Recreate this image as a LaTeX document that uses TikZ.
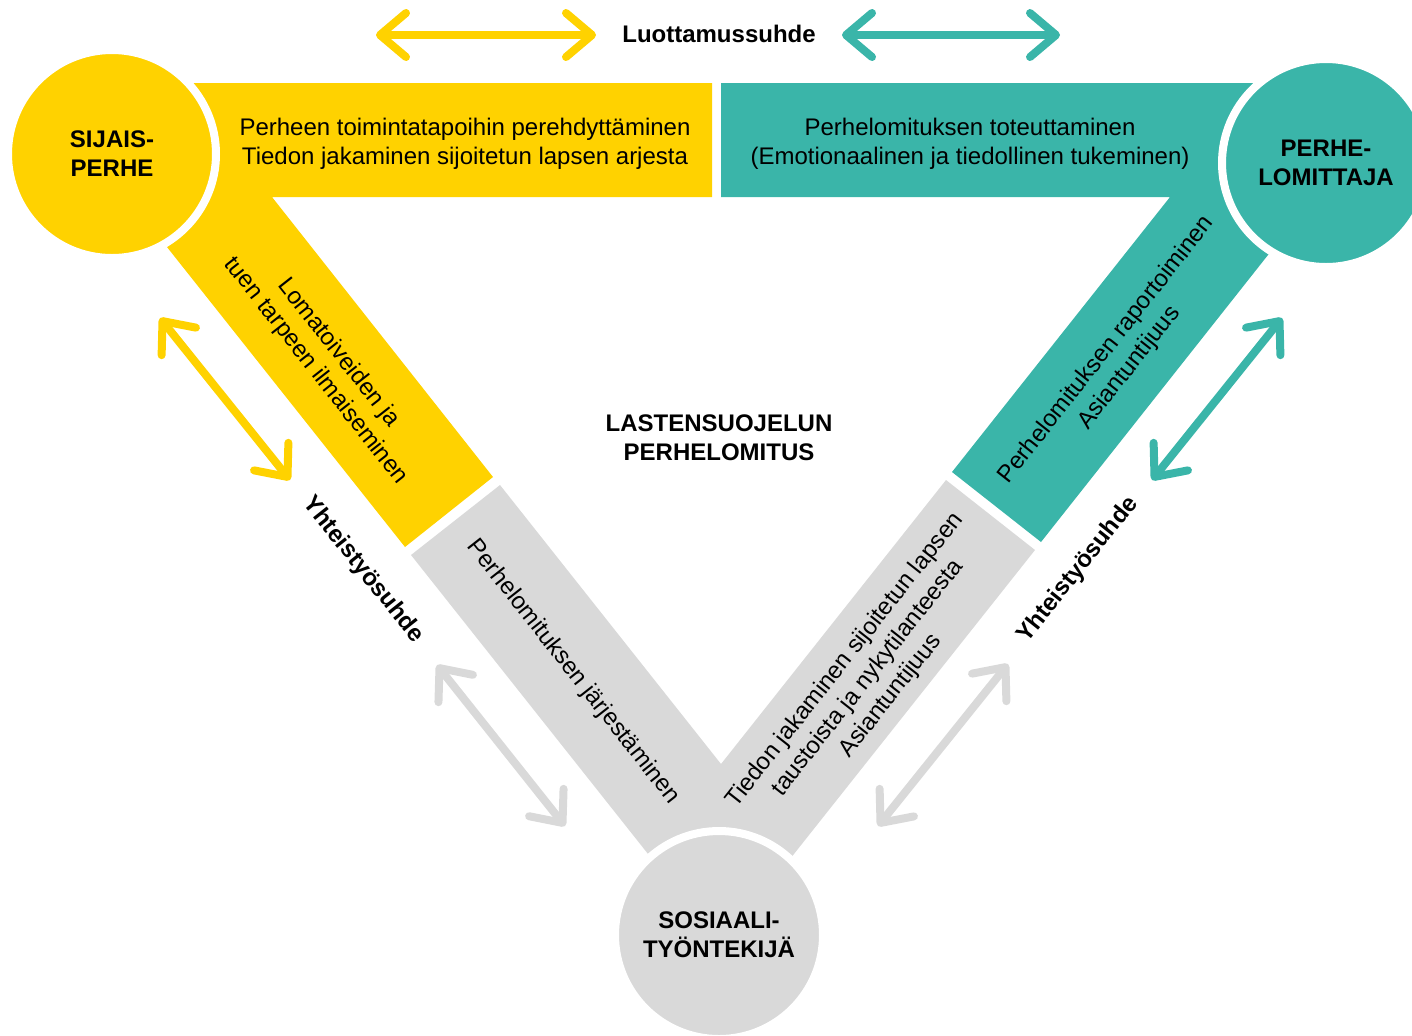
\documentclass[tikz,border=0pt]{standalone}
\usepackage{fontspec}
\setmainfont{Liberation Sans}
\usetikzlibrary{arrows.meta}
\definecolor{lomayellow}{RGB}{255,210,0}
\definecolor{lomateal}{RGB}{58,181,169}
\definecolor{lomagray}{RGB}{217,217,217}
\tikzset{
  party/.style={circle, draw=white, line width=4pt, minimum size=104pt, inner sep=0pt, align=center, font=\bfseries},
  task/.style={align=center},
  relation/.style={font=\bfseries},
  link/.style={line width=4pt, line cap=round,
    {Straight Barb[round,length=13pt,width=22pt]}-{Straight Barb[round,length=13pt,width=22pt]}},
}
\begin{document}
\begin{tikzpicture}[x=0.5pt,y=-0.5pt] \fontsize{12}{14.5}\selectfont
        \useasboundingbox (0,0) rectangle (1412,1035);
        \clip (0,0) rectangle (1412,1035);

        \fill[lomayellow] (60,83) -- (712,83) -- (712,197) -- (272,197) -- (493,477) -- (405,547) -- (90,150) -- cycle;
        \fill[lomateal] (721,83) -- (1300,83) -- (1351,150) -- (1041,542) -- (952,472) -- (1170,197) -- (721,197) -- cycle;
        \fill[lomagray] (411,555) -- (500,485) -- (721,764) -- (946,480) -- (1035,550) -- (721,946) -- cycle;

        \node[party, fill=lomayellow] (sijais) at (112,154) {SIJAIS-\\PERHE};
        \node[party, fill=lomateal] (lomittaja) at (1326,163) {PERHE-\\LOMITTAJA};
        \node[party, fill=lomagray] (sosiaali) at (719,935) {SOSIAALI-\\TYÖNTEKIJÄ};

        \node[task] (tsijais) at (465,144) {Perheen toimintatapoihin perehdyttäminen\\Tiedon jakaminen sijoitetun lapsen arjesta};
        \node[task] (tlomittaja) at (970,144) {Perhelomituksen toteuttaminen\\(Emotionaalinen ja tiedollinen tukeminen)};
        \node[task, rotate=-51.8] (tlomatoive) at (327,362) {Lomatoiveiden ja\\tuen tarpeen ilmaiseminen};
        \node[task, rotate=-51.8] (tjarjestys) at (573,672) {Perhelomituksen järjestäminen};
        \node[task, rotate=51.8] (ttieto) at (868,678) {Tiedon jakaminen sijoitetun lapsen\\taustoista ja nykytilanteesta\\Asiantuntijuus};
        \node[task, rotate=51.8] (traportti) at (1118,359) {Perhelomituksen raportoiminen\\Asiantuntijuus};
        \node[task, font=\bfseries] (core) at (719,438) {LASTENSUOJELUN\\PERHELOMITUS};

        \node[relation] (luottamus) at (719,34) {Luottamussuhde};
        \node[relation, rotate=-51.5] (yhteisl) at (363,570) {Yhteistyösuhde};
        \node[relation, rotate=51.5] (yhteisr) at (1078,570) {Yhteistyösuhde};

        \coordinate (ly1) at (376,35);
        \coordinate (ly2) at (596,35);
        \coordinate (lt1) at (842,35);
        \coordinate (lt2) at (1060,35);
        \coordinate (sy1) at (160,318);
        \coordinate (sy2) at (290,480);
        \coordinate (sg1) at (437,665);
        \coordinate (sg2) at (565,826);
        \coordinate (st1) at (1282,318);
        \coordinate (st2) at (1152,480);
        \coordinate (sr1) at (1008,664);
        \coordinate (sr2) at (878,826);

        \begin{scope}[every path/.style={link}]
        \draw[lomayellow] (ly1) -- (ly2);
        \draw[lomateal] (lt1) -- (lt2);
        \draw[lomayellow] (sy1) -- (sy2);
        \draw[lomagray] (sg1) -- (sg2);
        \draw[lomateal] (st1) -- (st2);
        \draw[lomagray] (sr1) -- (sr2);
        \end{scope}

\end{tikzpicture}
\end{document}
